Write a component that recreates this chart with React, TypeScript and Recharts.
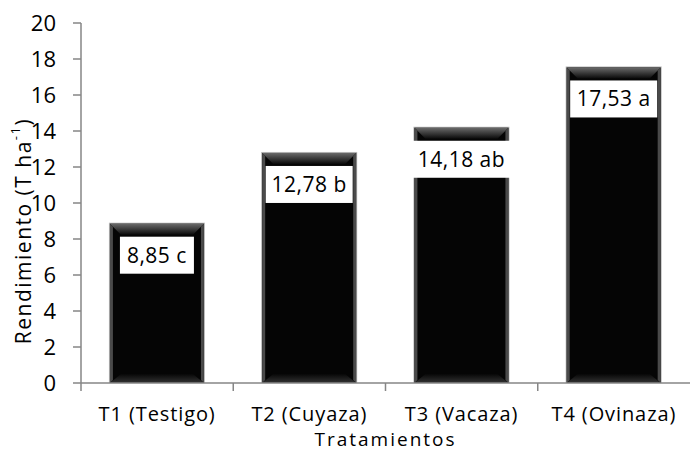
import React from 'react';
import { BarChart, Bar, XAxis, YAxis, LabelList } from 'recharts';

const categories = ['T1 (Testigo)', 'T2 (Cuyaza)', 'T3 (Vacaza)', 'T4 (Ovinaza)'];
const rendimiento = [8.85, 12.78, 14.18, 17.53];
const letters = ['c', 'b', 'ab', 'a'];
const yTicks = [0, 2, 4, 6, 8, 10, 12, 14, 16, 18, 20];

const data = categories.map((name, i) => ({
  name,
  value: rendimiento[i],
  label: `${rendimiento[i].toFixed(2).replace('.', ',')} ${letters[i]}`,
}));

const FONT = '"Open Sans", "Noto Sans", sans-serif';
const AXIS = '#868686';
const CHART_W = 691;
const CHART_H = 453;
const Y_W = 81;
const PLOT_W = CHART_W - Y_W - 1;
const BAND = PLOT_W / categories.length;

// black bar with a soft bevel like the Office "3D" preset
const BevelBar = (props: any) => {
  const { x, y, width, height } = props;
  if (!height || height <= 0) return null;
  const t = 11;
  return (
    <g>
      <rect x={x - 1} y={y - 1} width={width + 2} height={height + 1} fill="#b8b8b8" />
      <rect x={x} y={y} width={width} height={height} fill="#050505" />
      <polygon
        points={`${x},${y} ${x + width},${y} ${x + width - t},${y + t} ${x + t},${y + t}`}
        fill="url(#bevelTop)"
      />
      <polygon
        points={`${x},${y + height} ${x + width},${y + height} ${x + width - t},${y + height - 9} ${x + t},${y + height - 9}`}
        fill="url(#bevelBottom)"
      />
      <polygon
        points={`${x},${y} ${x + 3},${y + 3} ${x + 3},${y + height - 3} ${x},${y + height}`}
        fill="#4a4a4a"
      />
      <polygon
        points={`${x + width},${y} ${x + width - 3},${y + 3} ${x + width - 3},${y + height - 3} ${x + width},${y + height}`}
        fill="#4a4a4a"
      />
    </g>
  );
};

const BoxLabel = (props: any) => {
  const { x, y, width, value } = props;
  const text = String(value);
  const boxW = text.length * 13 - 4;
  const cx = x + width / 2;
  const top = y + 13;
  return (
    <g>
      <rect x={cx - boxW / 2} y={top} width={boxW} height={37} fill="#fff" />
      <text
        x={cx}
        y={top + 26}
        textAnchor="middle"
        fontFamily={FONT}
        fontSize={21}
        letterSpacing={0.5}
        fill="#000"
      >
        {text}
      </text>
    </g>
  );
};

const XTick = (props: any) => {
  const { x, y, payload } = props;
  return (
    <g>
      <line x1={x - BAND / 2} y1={y} x2={x - BAND / 2} y2={y + 8} stroke={AXIS} strokeWidth={1.5} />
      <text
        x={x}
        y={y + 38}
        textAnchor="middle"
        fontFamily={FONT}
        fontSize={20}
        letterSpacing={0.9}
        fill="#000"
      >
        {payload.value}
      </text>
    </g>
  );
};

const YLabel = (props: any) => {
  const { viewBox } = props;
  const cx = 23;
  const cy = viewBox.y + viewBox.height / 2 + 28;
  return (
    <text
      x={cx}
      y={cy}
      transform={`rotate(-90, ${cx}, ${cy})`}
      textAnchor="middle"
      dominantBaseline="central"
      fontFamily={FONT}
      fontSize={21}
      letterSpacing={1.5}
      fill="#000"
    >
      Rendimiento (T ha
      <tspan fontSize={13} dy={-8}>-1</tspan>
      <tspan dy={8}>)</tspan>
    </text>
  );
};

const XLabel = (props: any) => {
  const { viewBox } = props;
  return (
    <text
      x={viewBox.x + viewBox.width / 2}
      y={446}
      textAnchor="middle"
      fontFamily={FONT}
      fontSize={19}
      letterSpacing={2}
      fill="#000"
    >
      Tratamientos
    </text>
  );
};

export default function App() {
  return (
    <div style={{ position: 'absolute', left: 0, top: 0, background: '#fff' }}>
      <BarChart
        width={CHART_W}
        height={CHART_H}
        data={data}
        margin={{ top: 23, right: 1, bottom: 0, left: 0 }}
        barCategoryGap="19%"
      >
        <defs>
          <linearGradient id="bevelTop" x1="0" y1="0" x2="0" y2="1">
            <stop offset="0%" stopColor="#6a6a6a" />
            <stop offset="100%" stopColor="#0a0a0a" />
          </linearGradient>
          <linearGradient id="bevelBottom" x1="0" y1="1" x2="0" y2="0">
            <stop offset="0%" stopColor="#333" />
            <stop offset="100%" stopColor="#070707" />
          </linearGradient>
        </defs>
        <XAxis
          dataKey="name"
          height={70}
          stroke={AXIS}
          strokeWidth={1.5}
          tickLine={false}
          tickSize={0}
          tickMargin={0}
          interval={0}
          tick={<XTick />}
          label={<XLabel />}
        />
        <YAxis
          width={Y_W}
          domain={[0, 20]}
          ticks={yTicks}
          interval={0}
          stroke={AXIS}
          strokeWidth={1.5}
          tickSize={8}
          tickMargin={17}
          tick={{ fill: '#000', fontSize: 22, fontFamily: FONT }}
          label={<YLabel />}
        />
        <Bar dataKey="value" shape={<BevelBar />} isAnimationActive={false}>
          <LabelList dataKey="label" content={<BoxLabel />} />
        </Bar>
      </BarChart>
    </div>
  );
}
